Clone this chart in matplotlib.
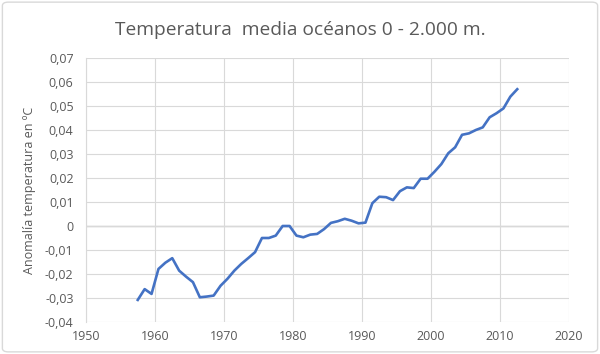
import matplotlib.pyplot as plt
from matplotlib.ticker import FuncFormatter
from matplotlib.patches import FancyBboxPatch

# Anomalía de temperatura media océanos 0-2000 m (medias pentadales)
years = [y + 0.5 for y in range(1957, 2013)]
anomaly = [
    -0.0308, -0.0263, -0.0283, -0.0179, -0.0153, -0.0134, -0.0186, -0.0211,
    -0.0234, -0.0297, -0.0294, -0.0290, -0.0249, -0.0220, -0.0186, -0.0158,
    -0.0134, -0.0109, -0.0050, -0.0050, -0.0040, 0.0000, 0.0000, -0.0040,
    -0.0047, -0.0036, -0.0033, -0.0013, 0.0013, 0.0020, 0.0030, 0.0022,
    0.0011, 0.0014, 0.0095, 0.0122, 0.0120, 0.0108, 0.0145, 0.0161,
    0.0158, 0.0197, 0.0197, 0.0226, 0.0258, 0.0303, 0.0328, 0.0380,
    0.0386, 0.0400, 0.0411, 0.0453, 0.0470, 0.0490, 0.0539, 0.0570,
]
xticks = list(range(1950, 2021, 10))
yticks = [i / 100 for i in range(-4, 8)]

plt.rcParams['font.family'] = ['Open Sans', 'DejaVu Sans']

fig = plt.figure(figsize=(6, 3.54), dpi=100)
border = FancyBboxPatch((0.004, 0.006), 0.992, 0.988, boxstyle="round,pad=0,rounding_size=0.01",
                        transform=fig.transFigure, facecolor='none', edgecolor='#d9d9d9', lw=1, zorder=10)
fig.patches.append(border)
ax = fig.add_axes([86 / 600, 1 - 322 / 354, (569 - 86) / 600, (322 - 58) / 354])

ax.plot(years, anomaly, color='#4472C4', lw=1.9, solid_joinstyle='round', zorder=3)

ax.set_xlim(1950, 2020)
ax.set_ylim(-0.04, 0.07)
ax.set_xticks(xticks)
ax.set_yticks(yticks)
ax.yaxis.set_major_formatter(FuncFormatter(lambda v, p: '0' if abs(v) < 1e-9 else f'{v:.2f}'.replace('.', ',')))
ax.grid(True, color='#d9d9d9', lw=0.8, zorder=0)
ax.axhline(0, color='#bfbfbf', lw=1, zorder=1)
for s in ax.spines.values():
    s.set_visible(False)
ax.spines['left'].set_visible(True)
ax.spines['left'].set_color('#d9d9d9')
ax.tick_params(length=0, labelsize=9, labelcolor='#595959')
ax.tick_params(axis='y', pad=9)
ax.tick_params(axis='x', pad=6)
ax.set_ylabel('Anomalía temperatura en ºC', fontsize=9, color='#595959', labelpad=6)
fig.text(0.5, 1 - 30 / 354, 'Temperatura  media océanos 0 - 2.000 m.', ha='center', va='center',
         fontsize=13.8, color='#595959')

fig.savefig('out.png', dpi=100)
